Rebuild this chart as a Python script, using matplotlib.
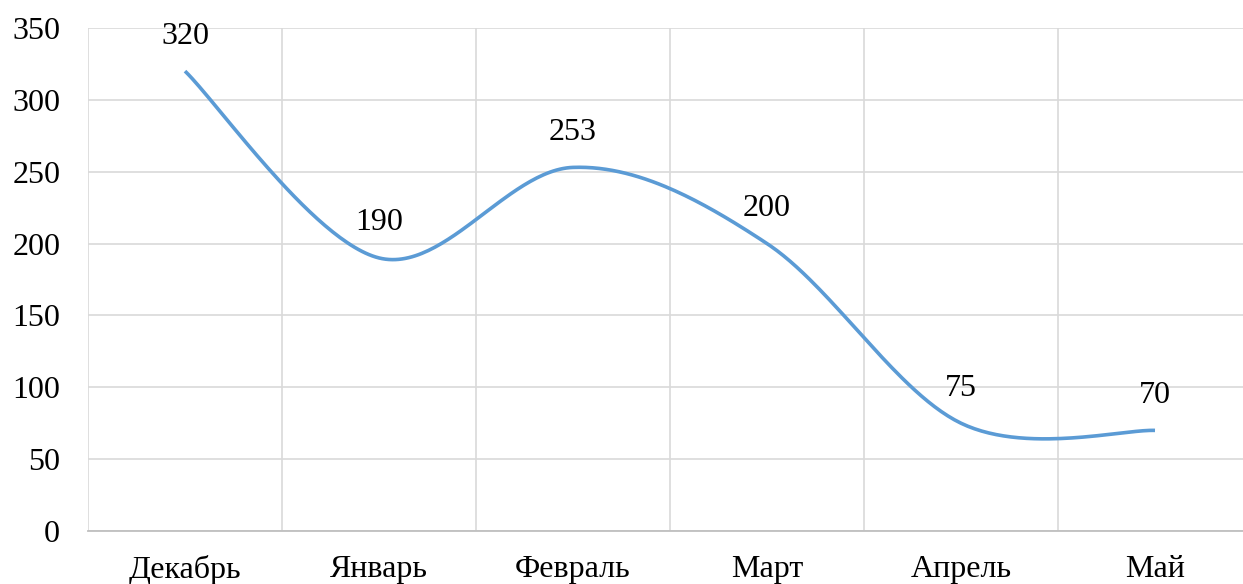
import numpy as np
import matplotlib
matplotlib.use("Agg")
import matplotlib.pyplot as plt

categories = ["Декабрь", "Январь", "Февраль", "Март", "Апрель", "Май"]
values = [320, 190, 253, 200, 75, 70]
y_ticks = [0, 50, 100, 150, 200, 250, 300, 350]

plt.rcParams['font.family'] = ['Liberation Serif', 'DejaVu Serif']

def catmull_rom(xs, ys, n=60):
    pts = np.column_stack([xs, ys]).astype(float)
    P = np.vstack([pts[0], pts, pts[-1]])
    out = []
    t = np.linspace(0, 1, n)[:, None]
    for i in range(1, len(P) - 2):
        p0, p1, p2, p3 = P[i - 1], P[i], P[i + 1], P[i + 2]
        c1 = p1 + (p2 - p0) / 6.0
        c2 = p2 - (p3 - p1) / 6.0
        seg = ((1 - t) ** 3) * p1 + 3 * ((1 - t) ** 2) * t * c1 + 3 * (1 - t) * t ** 2 * c2 + t ** 3 * p2
        out.append(seg if i == 1 else seg[1:])
    seg = np.vstack(out)
    return seg[:, 0], seg[:, 1]

fig = plt.figure(figsize=(12.43, 5.84), dpi=100)
ax = fig.add_axes([88 / 1243, (584 - 531) / 584, (1252 - 88) / 1243, (531 - 28) / 584])

x = np.arange(len(categories))
sx, sy = catmull_rom(x, values)
ax.plot(sx, sy, color='#5b9bd5', lw=2.6, solid_capstyle='butt', zorder=3)

for xi, v in zip(x, values):
    ax.annotate(str(v), (xi, v), xytext=(0, 35), textcoords='offset pixels',
                ha='center', va='center', fontsize=23, color='black')

ax.set_xlim(-0.5, len(categories) - 0.5)
ax.set_ylim(0, 350)
ax.set_yticks(y_ticks)
ax.set_xticks(x)
ax.set_xticklabels(categories)
ax.set_xticks(np.arange(len(categories) + 1) - 0.5, minor=True)
ax.grid(axis='y', color='#d9d9d9', lw=1.2)
ax.grid(axis='x', which='minor', color='#d9d9d9', lw=1.2)
ax.tick_params(axis='both', which='both', length=0, labelsize=23)
ax.tick_params(axis='y', pad=20)
ax.tick_params(axis='x', pad=17)
for s in ['top', 'right', 'left']:
    ax.spines[s].set_visible(False)
ax.spines['bottom'].set_color('#bfbfbf')
ax.spines['bottom'].set_linewidth(1.3)
ax.set_axisbelow(True)

fig.savefig('out.png', dpi=100)
